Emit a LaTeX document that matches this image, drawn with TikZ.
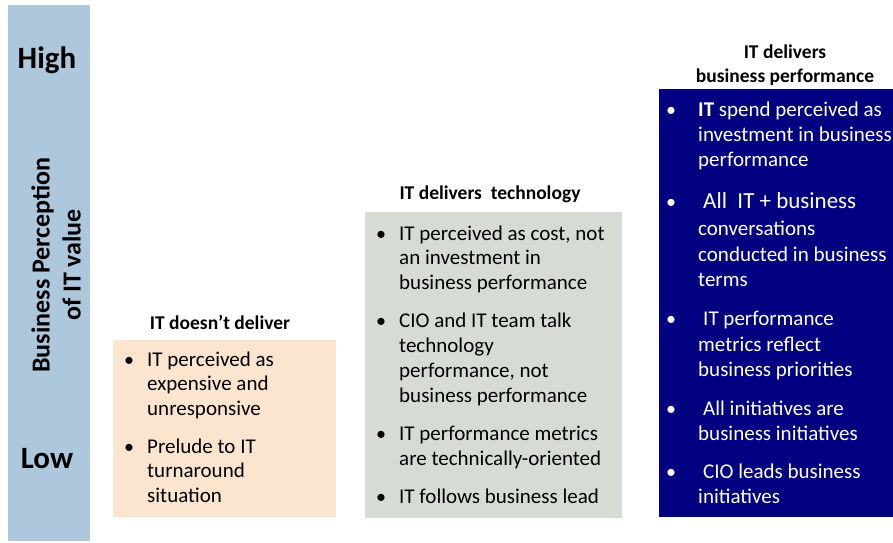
\documentclass[tikz,border=0pt]{standalone}
\usepackage{fontspec}
\setmainfont{Carlito}
\definecolor{barblue}{RGB}{173,199,220}
\definecolor{peach}{RGB}{251,229,206}
\definecolor{sage}{RGB}{214,220,212}
\definecolor{deepnavy}{RGB}{0,0,128}
\tikzset{
  heading/.style={font=\bfseries\fontsize{19.5}{24}\selectfont, anchor=base, inner sep=0pt},
  txt/.style={font=\fontsize{21}{25}\selectfont, anchor=base west, inner sep=0pt},
  dot/.style={font=\fontsize{20}{24}\selectfont, anchor=base west, inner sep=0pt},
  bigword/.style={font=\bfseries\fontsize{31}{36}\selectfont, anchor=base, inner sep=0pt}
}
\begin{document}
\begin{tikzpicture}[x=1pt,y=-1pt]
\useasboundingbox (0,0) rectangle (893,542);
\clip (0,0) rectangle (893,542);

% value axis bar
\fill[barblue] (8,5) rectangle (90,541);
\node[bigword] (high) at (47,68) {High};
\node[bigword] (low) at (47,468) {Low};
\node[font=\bfseries\fontsize{26}{31}\selectfont, align=center, rotate=90, inner sep=0pt]
  (axis) at (56,265) {Business Perception\\of IT value};

% panel 1
\fill[peach] (113,340) rectangle (336,517);
\node[heading] (h1) at (220,329) {IT doesn’t deliver};
\node[dot] (b1a) at (124,366) {•};
\node[dot] (b1b) at (124,453) {•};
\foreach \yy/\tx [count=\k] in {366/IT perceived as, 390.5/expensive and, 415/unresponsive,
  453/Prelude to IT, 477.5/turnaround, 502/situation}
  \node[txt] (p1l\k) at (147,\yy) {\tx};

% panel 2
\fill[sage] (365,212) rectangle (622,518);
\node[heading] (h2) at (490,199) {IT delivers\ \ technology};
\foreach \yy [count=\k] in {240,327,440,503}
  \node[dot] (b2\k) at (376,\yy) {•};
\foreach \yy/\tx [count=\k] in {240/{IT perceived as cost, not}, 264.5/an investment in,
  289/business performance,
  327/CIO and IT team talk, 352/technology, 377/{performance, not}, 402/business performance,
  440/IT performance metrics, 465/are technically-oriented,
  503/IT follows business lead}
  \node[txt] (p2l\k) at (399,\yy) {\tx};

% panel 3
\fill[deepnavy] (659,89) rectangle (893,517);
\node[heading] (h3a) at (785,58) {IT delivers};
\node[heading] (h3b) at (785,82) {business performance};
\foreach \yy [count=\k] in {116,208,325,415,478}
  \node[dot, text=white] (b3\k) at (666,\yy) {•};
\node[txt, text=white] (p3l1) at (698,116) {\textbf{IT} spend perceived as};
\node[txt, text=white] (p3l2) at (698,141) {investment in business};
\node[txt, text=white] (p3l3) at (698,166) {performance};
\node[txt, text=white, font=\fontsize{23}{27}\selectfont] (p3l4) at (703,208) {All\ \ IT + business};
\foreach \yy/\tx [count=\k from 5] in {235/conversations, 261/conducted in business, 286/terms}
  \node[txt, text=white] (p3l\k) at (698,\yy) {\tx};
\node[txt, text=white] (p3l8) at (703,325) {IT performance};
\node[txt, text=white] (p3l9) at (698,351) {metrics reflect};
\node[txt, text=white] (p3l10) at (698,376) {business priorities};
\node[txt, text=white] (p3l11) at (703,415) {All initiatives are};
\node[txt, text=white] (p3l12) at (698,440) {business initiatives};
\node[txt, text=white] (p3l13) at (703,478) {CIO leads business};
\node[txt, text=white] (p3l14) at (698,503) {initiatives};
\end{tikzpicture}
\end{document}
